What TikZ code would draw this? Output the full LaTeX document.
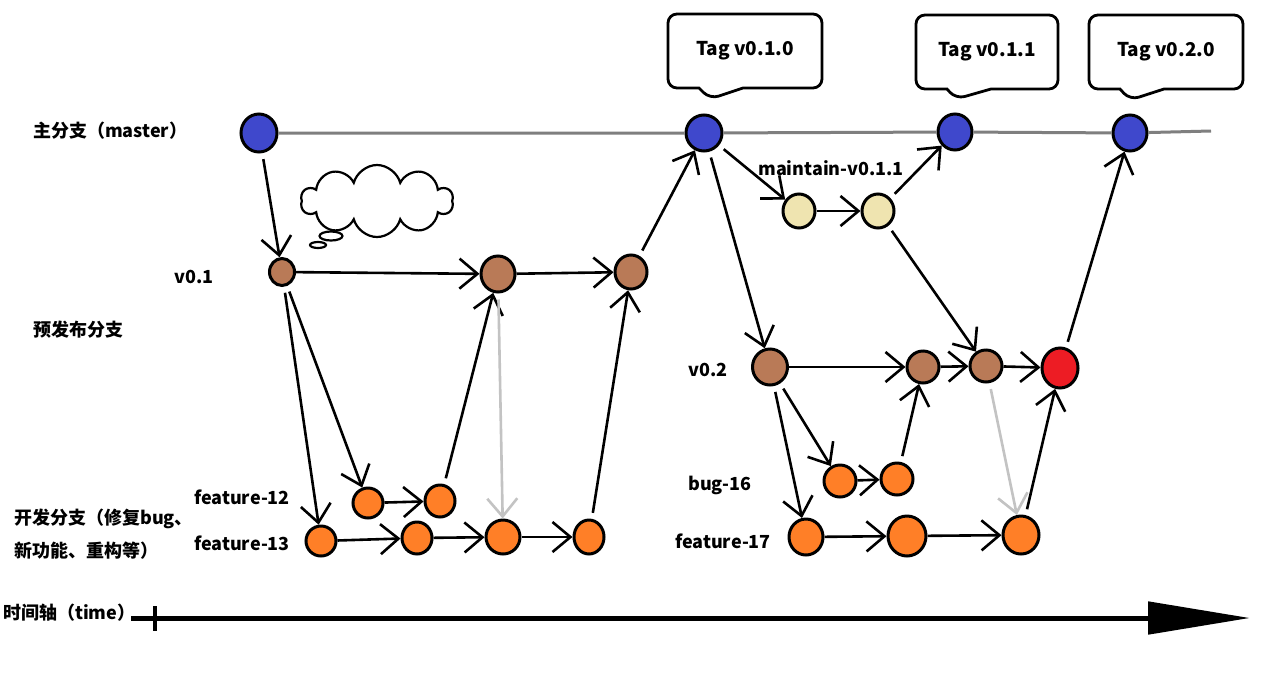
\documentclass[tikz,border=0pt]{standalone}
\usepackage{fontspec}
\setmainfont{Noto Sans CJK SC}
\usetikzlibrary{arrows.meta,positioning,shapes.geometric,shapes.symbols,shapes.callouts}
\definecolor{mblue}{HTML}{3F48CC}
\definecolor{rbrown}{HTML}{B97A57}
\definecolor{dorange}{HTML}{FF7F27}
\definecolor{kcream}{HTML}{EFE4B0}
\definecolor{hotred}{HTML}{ED1C24}
\definecolor{trunkgray}{HTML}{7F7F7F}
\definecolor{backgray}{HTML}{C3C3C3}
\tikzset{
  % Commits
  commit/.style={draw=black,line width=3pt,ellipse,inner sep=0pt},
  sz/.style 2 args={minimum width=#1,minimum height=#2},
  mc/.style={commit,fill=mblue},
  rc/.style={commit,fill=rbrown},
  dc/.style={commit,fill=dorange},
  kc/.style={commit,fill=kcream},
  hc/.style={commit,fill=hotred},
  % Tag bubbles
  tagbox/.style={rectangle callout,draw=black,line width=2.8pt,fill=white,
                 rounded corners=9pt,callout pointer width=44pt,
                 minimum width=154pt,minimum height=74pt,
                 font=\fontsize{19}{21}\selectfont\bfseries},
  % Labels
  lbl/.style={font=\fontsize{18}{20}\selectfont\bfseries,inner sep=0pt},
  % Connectors
  trunk/.style={draw=trunkgray,line width=3pt},
  fl/.style={-{Straight Barb[length=18pt,width=30pt]},line width=2.6pt,shorten <=6pt},
  flg/.style={fl,draw=backgray}
}
\begin{document}
\begin{tikzpicture}[x=1pt,y=-1pt]
  \fill[white] (0,0) rectangle (1268,683);
  \useasboundingbox (0,0) rectangle (1268,683);

  % Lane labels
  \node[lbl,anchor=west] (lmaster) at (33,131) {主分支（master）};
  \node[lbl,anchor=west] (lpre) at (33,330) {预发布分支};
  \node[lbl,anchor=west,align=left,font=\fontsize{18}{33}\selectfont\bfseries] (ldev) at (14,534)
       {开发分支（修复bug、\\新功能、重构等）};
  \node[lbl,anchor=west] (ltime) at (3,613) {时间轴（time）};

  % Master commits
  \coordinate (mend) at (1211,131);
  \node[mc,sz={36pt}{38pt}] (m0) at (259,133) {};
  \node[mc,sz={36pt}{36pt}] (m1) at (704,133) {};
  \node[mc,sz={34pt}{36pt}] (m2) at (955,132) {};
  \node[mc,sz={34pt}{36pt}] (m3) at (1130,133) {};

  % Tags
  \node[tagbox,callout absolute pointer={(710,99)}] (tag1) at (745,51) {Tag v0.1.0};
  \node[tagbox,minimum width=142pt,callout absolute pointer={(956,99)}] (tag2) at (987,52) {Tag v0.1.1};
  \node[tagbox,callout absolute pointer={(1130,100)}] (tag3) at (1166,52) {Tag v0.2.0};

  % Maintenance branch
  \node[kc,sz={32pt}{34pt}] (k1) at (799,211) {};
  \node[kc,sz={32pt}{34pt}] (k2) at (878,211) {};
  \node[lbl] (lmaint) at (831,168) {maintain-v0.1.1};

  % Pre-release commits
  \node[rc,sz={25pt}{27pt}] (r1) at (282,272) {};
  \node[rc,sz={34pt}{36pt}] (r2) at (498,274) {};
  \node[rc,sz={32pt}{34pt}] (r3) at (631,272) {};
  \node[rc,sz={35pt}{36pt}] (r4) at (770,367) {};
  \node[rc,sz={32pt}{32pt}] (r5) at (923,367) {};
  \node[rc,sz={32pt}{32pt}] (r6) at (986,366) {};
  \node[hc,sz={36pt}{40pt}] (hot) at (1060,368) {};
  \node[lbl] (lv1) at (194,277) {v0.1};
  \node[lbl] (lv2) at (708,370) {v0.2};

  % Dev commits
  \node[dc,sz={30pt}{30pt}] (f12a) at (368,503) {};
  \node[dc,sz={30pt}{32pt}] (f12b) at (440,501) {};
  \node[dc,sz={30pt}{30pt}] (f13a) at (321,541) {};
  \node[dc,sz={30pt}{32pt}] (f13b) at (417,538) {};
  \node[dc,sz={34pt}{34pt}] (f13c) at (503,537) {};
  \node[dc,sz={30pt}{34pt}] (f13d) at (589,537) {};
  \node[dc,sz={32pt}{32pt}] (g16a) at (840,481) {};
  \node[dc,sz={32pt}{32pt}] (g16b) at (897,479) {};
  \node[dc,sz={34pt}{36pt}] (f17a) at (806,537) {};
  \node[dc,sz={38pt}{40pt}] (f17b) at (907,536) {};
  \node[dc,sz={36pt}{38pt}] (f17c) at (1021,535) {};
  \node[lbl] (lf12) at (242,497) {feature-12};
  \node[lbl] (lf13) at (242,543) {feature-13};
  \node[lbl] (lb16) at (720,485) {bug-16};
  \node[lbl] (lf17) at (723,541) {feature-17};

  % Thought cloud
  \node[cloud,draw=black,line width=2.2pt,cloud puffs=10,minimum width=152pt,minimum height=72pt] (thought) at (377,201) {};
  \node[ellipse,draw=black,line width=2.2pt,sz={23pt}{9pt},inner sep=0pt] (puff1) at (331,236) {};
  \node[ellipse,draw=black,line width=2.2pt,sz={16pt}{6pt},inner sep=0pt] (puff2) at (318,245) {};

  % Master line
  \draw[trunk] (m0) -- (m1) (m1) -- (m2) (m2) -- (m3) (m3) -- (mend);

  % First release cycle
  \draw[fl] (m0) -- (r1);
  \draw[fl,shorten <=0pt] (r1) -- (r2);
  \draw[fl,shorten <=0pt] (r2) -- (r3);
  \draw[fl] (r3) -- (m1);
  \draw[fl] (r1) -- (f12a);
  \draw[fl] (r1) -- (f13a);
  \draw[fl,shorten <=0pt] (f12a) -- (f12b);
  \draw[fl] (f12b) -- (r2);
  \draw[flg] (r2) -- (f13c);
  \draw[fl,shorten <=0pt] (f13a) -- (f13b);
  \draw[fl,shorten <=0pt] (f13b) -- (f13c);
  \draw[fl,shorten <=0pt] (f13c) -- (f13d);
  \draw[fl] (f13d) -- (r3);

  % Maintenance
  \draw[fl] (m1) -- (k1);
  \draw[fl,shorten <=0pt] (k1) -- (k2);
  \draw[fl] (k2) -- (m2);
  \draw[fl] (k2) -- (r6);

  % Second release cycle
  \draw[fl] (m1) -- (r4);
  \draw[fl,shorten <=0pt] (r4) -- (r5);
  \draw[fl,shorten <=0pt] (r5) -- (r6);
  \draw[fl,shorten <=0pt] (r6) -- (hot);
  \draw[fl] (hot) -- (m3);
  \draw[fl] (r4) -- (g16a);
  \draw[fl] (r4) -- (f17a);
  \draw[fl,shorten <=0pt] (g16a) -- (g16b);
  \draw[fl] (g16b) -- (r5);
  \draw[fl,shorten <=0pt] (f17a) -- (f17b);
  \draw[fl,shorten <=0pt] (f17b) -- (f17c);
  \draw[flg] (r6) -- (f17c);
  \draw[fl] (f17c) -- (hot);

  % Time axis
  \coordinate (t0) at (131,618);
  \coordinate (t1) at (1250,618);
  \coordinate (tk0) at (155,606);
  \coordinate (tk1) at (155,631);
  \draw[line width=5pt,-{Triangle[length=102pt,width=32pt]}] (t0) -- (t1);
  \draw[line width=4pt] (tk0) -- (tk1);
\end{tikzpicture}
\end{document}
